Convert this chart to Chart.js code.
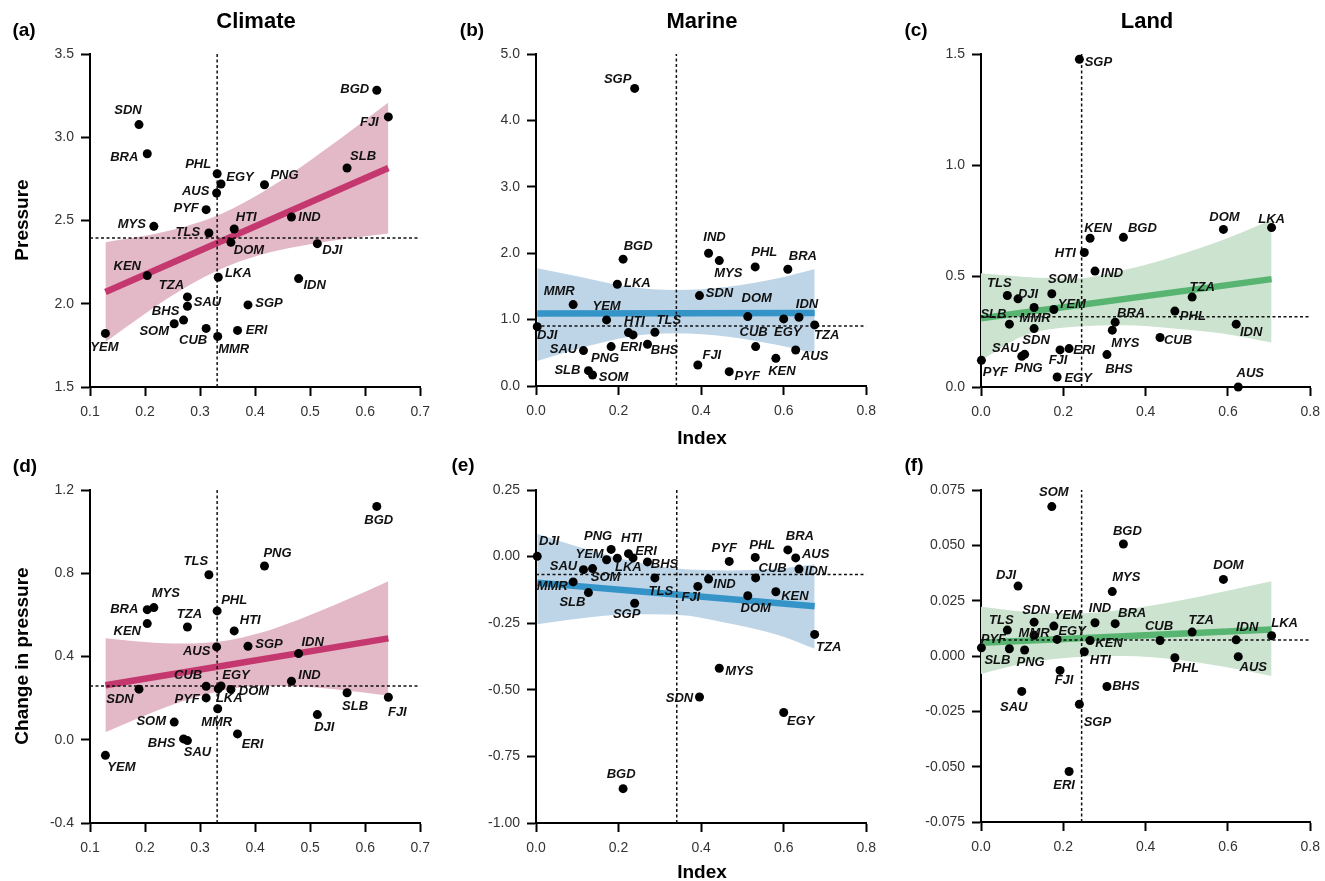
<!DOCTYPE html>
<html>
<head>
<meta charset="utf-8">
<script src="https://cdn.jsdelivr.net/npm/chart.js@4.4.1/dist/chart.umd.min.js"></script>
<style>
  body { margin: 0; background: #fff; width: 1325px; height: 881px; position: relative; overflow: hidden;
         font-family: "Liberation Sans", Arial, Helvetica, sans-serif; }
  canvas { position: absolute; }
  .t { position: absolute; font-weight: bold; color: #000; white-space: nowrap; transform: translate(-50%, -50%); z-index: 2; }
  .rot { transform: translate(-50%, -50%) rotate(-90deg); }
</style>
</head>
<body>
<div class="t" style="left:24px;top:30px;font-size:19px">(a)</div>
<div class="t" style="left:472px;top:30px;font-size:19px">(b)</div>
<div class="t" style="left:916px;top:30px;font-size:19px">(c)</div>
<div class="t" style="left:25px;top:466px;font-size:19px">(d)</div>
<div class="t" style="left:463px;top:465px;font-size:19px">(e)</div>
<div class="t" style="left:914px;top:465px;font-size:19px">(f)</div>
<div class="t" style="left:256px;top:21px;font-size:22px">Climate</div>
<div class="t" style="left:702px;top:21px;font-size:22px">Marine</div>
<div class="t" style="left:1147px;top:21px;font-size:22px">Land</div>
<div class="t rot" style="left:22px;top:220px;font-size:19px">Pressure</div>
<div class="t rot" style="left:22px;top:656px;font-size:19px">Change in pressure</div>
<div class="t" style="left:702px;top:438px;font-size:19px">Index</div>
<div class="t" style="left:702px;top:872px;font-size:19px">Index</div>

<script>
"use strict";

// countries (same order in every array)
const countries = ['AUS','BGD','BHS','BRA','CUB','DJI','DOM','EGY','ERI','FJI','HTI','IDN','IND','KEN',
                   'LKA','MMR','MYS','PHL','PNG','PYF','SAU','SDN','SGP','SLB','SOM','TLS','TZA','YEM'];

const climateIndex    = [0.330,0.621,0.270,0.204,0.311,0.513,0.356,0.338,0.368,0.642,0.362,0.479,0.466,0.204,
                         0.333,0.332,0.216,0.331,0.417,0.311,0.277,0.189,0.387,0.567,0.253,0.316,0.277,0.128];
const climatePressure = [2.665,3.282,1.902,2.901,1.852,2.361,2.369,2.719,1.840,3.122,2.449,2.151,2.521,2.169,
                         2.159,1.804,2.465,2.781,2.715,2.565,1.985,3.076,1.993,2.815,1.880,2.425,2.041,1.822];
const climateChange   = [0.446,1.121,0.004,0.625,0.257,0.121,0.242,0.258,0.028,0.204,0.523,0.414,0.281,0.558,
                         0.245,0.149,0.635,0.619,0.835,0.201,-0.004,0.243,0.449,0.226,0.085,0.793,0.542,-0.075];

const marineIndex     = [0.629,0.211,0.270,0.610,0.532,0.003,0.513,0.600,0.235,0.392,0.224,0.637,0.418,0.581,
                         0.197,0.090,0.444,0.531,0.182,0.468,0.115,0.396,0.239,0.127,0.137,0.288,0.675,0.171];
const marinePressure  = [0.543,1.910,0.628,1.759,0.593,0.894,1.045,1.010,0.769,0.317,0.804,1.035,2.000,0.417,
                         1.533,1.226,1.889,1.794,0.593,0.216,0.533,1.362,4.482,0.231,0.166,0.809,0.920,0.995];
const marineChange    = [-0.005,-0.871,-0.020,0.025,-0.080,0.001,-0.147,-0.585,-0.005,-0.112,0.011,-0.047,-0.084,-0.132,
                         -0.006,-0.095,-0.419,-0.003,0.027,-0.018,-0.049,-0.527,-0.175,-0.135,-0.045,-0.080,-0.292,-0.012];

const landIndex       = [0.625,0.346,0.306,0.326,0.435,0.090,0.589,0.185,0.214,0.192,0.251,0.620,0.277,0.265,
                         0.706,0.129,0.319,0.471,0.106,0.001,0.099,0.129,0.239,0.069,0.172,0.064,0.513,0.177];
const landPressure    = [0.000,0.674,0.146,0.292,0.223,0.397,0.710,0.045,0.173,0.167,0.606,0.283,0.522,0.670,
                         0.718,0.358,0.256,0.342,0.147,0.120,0.138,0.263,1.476,0.283,0.420,0.412,0.405,0.349];
const landChange      = [-0.0003,0.0506,-0.0138,0.0146,0.0070,0.0316,0.0346,0.0075,-0.0522,-0.0065,0.0019,0.0073,0.0150,0.0070,
                         0.0092,0.0094,0.0291,-0.0008,0.0027,0.0037,-0.0160,0.0153,-0.0218,0.0033,0.0675,0.0117,0.0108,0.0135];

// tick labels
const climateTicks  = [0.1, 0.2, 0.3, 0.4, 0.5, 0.6, 0.7];
const indexTicks    = [0, 0.2, 0.4, 0.6, 0.8];
const ticksA = [1.5, 2.0, 2.5, 3.0, 3.5];
const ticksB = [0, 1, 2, 3, 4, 5];
const ticksC = [0, 0.5, 1.0, 1.5];
const ticksD = [-0.4, 0, 0.4, 0.8, 1.2];
const ticksE = [-1, -0.75, -0.5, -0.25, 0, 0.25];
const ticksF = [-0.075, -0.05, -0.025, 0, 0.025, 0.05, 0.075];

// dashed reference lines [vertical x, horizontal y]
const refA = [0.331, 2.395];
const refB = [0.340, 0.905];
const refC = [0.2445, 0.316];
const refD = [0.331, 0.2585];
const refE = [0.341, -0.067];
const refF = [0.2445, 0.0072];

// fitted lines (ends) and confidence bands
const climateFitX = [0.128, 0.642];
const fitA = [2.07, 2.815];
const fitD = [0.262, 0.487];
const marineFitX = [0.003, 0.675];
const fitB = [1.09, 1.10];
const fitE = [-0.098, -0.186];
const landFitX = [0.0, 0.706];
const fitC = [0.31, 0.486];
const fitF = [0.006, 0.012];

const climateBandX = [0.128, 0.2, 0.27, 0.34, 0.41, 0.48, 0.56, 0.642];
const bandHiA = [2.37, 2.408, 2.461, 2.542, 2.664, 2.814, 3.004, 3.208];
const bandLoA = [1.77, 1.940, 2.091, 2.212, 2.294, 2.346, 2.388, 2.422];
const bandHiD = [0.488, 0.470, 0.462, 0.473, 0.514, 0.578, 0.665, 0.762];
const bandLoD = [0.036, 0.117, 0.186, 0.237, 0.258, 0.256, 0.238, 0.212];

const marineBandX = [0.003, 0.106, 0.226, 0.338, 0.466, 0.586, 0.675];
const bandHiB = [1.774, 1.647, 1.496, 1.447, 1.496, 1.623, 1.763];
const bandLoB = [0.376, 0.567, 0.743, 0.794, 0.743, 0.617, 0.492];
const bandHiE = [0.086, 0.035, -0.015, -0.045, -0.052, -0.045, -0.030];
const bandLoE = [-0.254, -0.232, -0.216, -0.218, -0.250, -0.294, -0.346];

const landBandX = [0.0, 0.107, 0.227, 0.347, 0.467, 0.587, 0.706];
const bandHiC = [0.512, 0.496, 0.489, 0.527, 0.587, 0.662, 0.752];
const bandLoC = [0.120, 0.233, 0.271, 0.278, 0.264, 0.241, 0.200];
const bandHiF = [0.0222, 0.0200, 0.0192, 0.0210, 0.0245, 0.0290, 0.0338];
const bandLoF = [-0.0081, -0.0033, -0.0006, 0.0000, -0.0015, -0.0048, -0.0090];

// label placement (pixel offset of label centre from point)
const offA = {AUS:[-21,-2],BGD:[-22,-1],BHS:[-18,-9],BRA:[-23,4],CUB:[-13,12],DJI:[15,7],DOM:[18,8],EGY:[19,-7],ERI:[19,0],FJI:[-19,5],HTI:[12,-12],IDN:[16,7],IND:[18,0],KEN:[-20,-9],LKA:[20,-4],MMR:[16,13],MYS:[-22,-2],PHL:[-19,-9],PNG:[20,-9],PYF:[-20,-1],SAU:[20,-4],SDN:[-11,-14],SGP:[21,-1],SLB:[16,-12],SOM:[-20,8],TLS:[-21,-1],TZA:[-16,-12],YEM:[-1,14]};
const offB = {AUS:[19,6],BGD:[15,-13],BHS:[17,6],BRA:[15,-13],CUB:[-2,-14],DJI:[10,9],DOM:[9,-18],EGY:[4,13],ERI:[-2,12],FJI:[14,-10],HTI:[6,-11],IDN:[8,-13],IND:[6,-16],KEN:[6,13],LKA:[20,-1],MMR:[-14,-13],MYS:[9,13],PHL:[9,-14],PNG:[-6,12],PYF:[18,5],SAU:[-20,-1],SDN:[20,-2],SGP:[-17,-9],SLB:[-21,0],SOM:[21,2],TLS:[14,-12],TZA:[12,11],YEM:[0,-14]};
const offC = {AUS:[12,-14],BGD:[19,-9],BHS:[12,15],BRA:[16,-9],CUB:[18,3],DJI:[10,-4],DOM:[1,-12],EGY:[21,1],ERI:[15,2],FJI:[-2,10],HTI:[-19,1],IDN:[15,8],IND:[17,2],KEN:[8,-10],LKA:[0,-8],MMR:[1,11],MYS:[13,13],PHL:[18,5],PNG:[4,14],PYF:[14,12],SAU:[-16,-8],SDN:[2,12],SGP:[19,3],SLB:[-16,-10],SOM:[11,-14],TLS:[-8,-12],TZA:[10,-10],YEM:[18,-5]};
const offD = {AUS:[-20,4],BGD:[2,14],BHS:[-22,5],BRA:[-23,0],CUB:[-18,-11],DJI:[7,13],DOM:[23,2],EGY:[15,-11],ERI:[15,10],FJI:[9,15],HTI:[16,-10],IDN:[14,-11],IND:[18,-6],KEN:[-20,8],LKA:[11,10],MMR:[-1,14],MYS:[12,-14],PHL:[17,-10],PNG:[13,-13],PYF:[-19,2],SAU:[10,12],SDN:[-19,10],SGP:[21,-2],SLB:[8,14],SOM:[-23,-1],TLS:[-13,-13],TZA:[2,-13],YEM:[16,12]};
const offE = {AUS:[20,-4],BGD:[-2,-14],BHS:[17,2],BRA:[12,-14],CUB:[17,-9],DJI:[12,-15],DOM:[8,13],EGY:[17,9],ERI:[13,-7],FJI:[-7,11],HTI:[3,-15],IDN:[17,2],IND:[16,5],KEN:[19,5],LKA:[11,9],MMR:[-21,5],MYS:[20,3],PHL:[7,-12],PNG:[-13,-13],PYF:[-5,-13],SAU:[-20,-3],SDN:[-20,1],SGP:[-8,11],SLB:[-16,10],SOM:[13,9],TLS:[6,14],TZA:[14,13],YEM:[-17,-5]};
const offF = {AUS:[15,11],BGD:[4,-13],BHS:[19,0],BRA:[17,-10],CUB:[-1,-14],DJI:[-12,-11],DOM:[5,-14],EGY:[15,-8],ERI:[-5,14],FJI:[4,10],HTI:[16,9],IDN:[11,-12],IND:[5,-14],KEN:[19,3],LKA:[13,-12],MMR:[0,-2],MYS:[14,-14],PHL:[11,11],PNG:[6,12],PYF:[12,-8],SAU:[-8,16],SDN:[2,-12],SGP:[18,18],SLB:[-12,12],SOM:[2,-14],TLS:[-6,-10],TZA:[9,-12],YEM:[14,-11]};

const PINK = ['#C4386F', '#E3B9C7'];
const BLUE = ['#3594C7', '#BED5E8'];
const GREEN = ['#57B571', '#CCE3D0'];

const FONT = '"Liberation Sans", Arial, Helvetica, sans-serif';

const pts = (xs, ys) => xs.map((v, i) => ({x: v, y: ys[i]}));

function labelPlugin(offsets) {
  return {
    id: 'ptLabels',
    afterDatasetsDraw(chart) {
      const meta = chart.getDatasetMeta(0);
      const ctx = chart.ctx;
      ctx.save();
      ctx.font = 'italic bold 13px ' + FONT;
      ctx.fillStyle = '#111';
      ctx.textAlign = 'center';
      ctx.textBaseline = 'middle';
      meta.data.forEach((p, i) => {
        const o = offsets[countries[i]] || [0, -12];
        ctx.fillText(countries[i], p.x + o[0], p.y + o[1]);
      });
      ctx.restore();
    }
  };
}

function axis(ticks, dec, isX) {
  return {
    type: 'linear',
    min: ticks[0],
    max: ticks[ticks.length - 1],
    afterBuildTicks: s => { s.ticks = ticks.map(v => ({value: v})); },
    afterFit: s => { if (isX) s.height = 40; else s.width = 70; },
    ticks: {
      callback: v => Number(v).toFixed(dec),
      font: {family: FONT, size: 14},
      color: '#333',
      padding: isX ? 8 : 7,
      autoSkip: false,
      maxRotation: 0
    },
    grid: {display: true, drawOnChartArea: false, drawTicks: true, tickLength: 9, tickWidth: 2, tickColor: '#000'},
    border: {display: true, color: '#000', width: 2}
  };
}

function panel(p) {
  const [L, R, T, B] = p.area;
  const w = R - L + 95, h = B - T + 100;
  const cv = document.createElement('canvas');
  cv.width = w; cv.height = h;
  cv.style.left = (L - 80) + 'px'; cv.style.top = (T - 50) + 'px';
  cv.style.width = w + 'px'; cv.style.height = h + 'px';
  document.body.appendChild(cv);

  const xt = p.xTicks, yt = p.yTicks;
  const dash = {type: 'line', borderColor: '#111', borderWidth: 1.5, borderDash: [3, 2.5], pointRadius: 0, fill: false};

  new Chart(cv, {
    type: 'scatter',
    data: {
      datasets: [
        {type: 'scatter', data: pts(p.x, p.y), pointRadius: 4.5, pointHoverRadius: 4.5,
         pointBackgroundColor: '#000', pointBorderWidth: 0, clip: false},
        Object.assign({data: [{x: p.ref[0], y: yt[0]}, {x: p.ref[0], y: yt[yt.length - 1]}]}, dash),
        Object.assign({data: [{x: xt[0], y: p.ref[1]}, {x: xt[xt.length - 1], y: p.ref[1]}]}, dash),
        {type: 'line', data: pts(p.fitX, p.fitY), borderColor: p.col[0], borderWidth: 6.5,
         borderCapStyle: 'butt', pointRadius: 0, fill: false},
        {type: 'line', data: pts(p.bandX, p.hi), borderColor: 'rgba(0,0,0,0)', borderWidth: 1,
         pointRadius: 0, fill: '+1', backgroundColor: p.col[1], cubicInterpolationMode: 'monotone'},
        {type: 'line', data: pts(p.bandX, p.lo), borderColor: 'rgba(0,0,0,0)', borderWidth: 1,
         pointRadius: 0, fill: false, cubicInterpolationMode: 'monotone'}
      ]
    },
    options: {
      responsive: false,
      animation: false,
      devicePixelRatio: 1,
      layout: {padding: {left: 10, right: 15, top: 50, bottom: 10}},
      plugins: {legend: {display: false}, tooltip: {enabled: false}},
      scales: {x: axis(xt, 1, true), y: axis(yt, p.yDec, false)}
    },
    plugins: [labelPlugin(p.off)]
  });
}

panel({area: [90, 423, 54, 387], x: climateIndex, y: climatePressure, xTicks: climateTicks, yTicks: ticksA, yDec: 1,
       ref: refA, fitX: climateFitX, fitY: fitA, bandX: climateBandX, hi: bandHiA, lo: bandLoA, col: PINK, off: offA});
panel({area: [536, 869, 54, 386], x: marineIndex, y: marinePressure, xTicks: indexTicks, yTicks: ticksB, yDec: 1,
       ref: refB, fitX: marineFitX, fitY: fitB, bandX: marineBandX, hi: bandHiB, lo: bandLoB, col: BLUE, off: offB});
panel({area: [981, 1313, 54, 387], x: landIndex, y: landPressure, xTicks: indexTicks, yTicks: ticksC, yDec: 1,
       ref: refC, fitX: landFitX, fitY: fitC, bandX: landBandX, hi: bandHiC, lo: bandLoC, col: GREEN, off: offC});
panel({area: [90, 423, 490, 823], x: climateIndex, y: climateChange, xTicks: climateTicks, yTicks: ticksD, yDec: 1,
       ref: refD, fitX: climateFitX, fitY: fitD, bandX: climateBandX, hi: bandHiD, lo: bandLoD, col: PINK, off: offD});
panel({area: [536, 869, 490, 823], x: marineIndex, y: marineChange, xTicks: indexTicks, yTicks: ticksE, yDec: 2,
       ref: refE, fitX: marineFitX, fitY: fitE, bandX: marineBandX, hi: bandHiE, lo: bandLoE, col: BLUE, off: offE});
panel({area: [981, 1313, 490, 822], x: landIndex, y: landChange, xTicks: indexTicks, yTicks: ticksF, yDec: 3,
       ref: refF, fitX: landFitX, fitY: fitF, bandX: landBandX, hi: bandHiF, lo: bandLoF, col: GREEN, off: offF});
</script>
</body>
</html>
